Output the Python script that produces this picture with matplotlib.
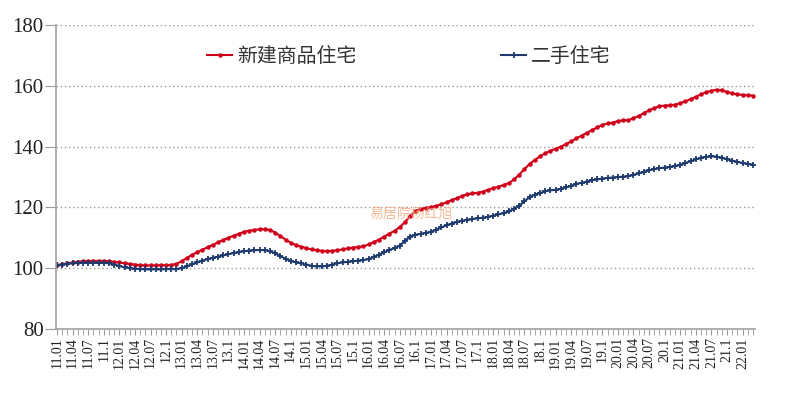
import numpy as np
import matplotlib
matplotlib.use("Agg")
import matplotlib.pyplot as plt

# 月度价格指数(2011.01 = 100 附近), 2011.01 - 2022.03
new_homes = [
    101.0, 101.3, 101.6, 101.9, 102.1, 102.3, 102.4, 102.4, 102.4, 102.4, 102.3, 102.1,  # 2011
    101.9, 101.6, 101.4, 101.2, 101.0, 100.9, 100.9, 100.9, 101.0, 101.0, 101.1, 101.4,  # 2012
    102.3, 103.4, 104.4, 105.3, 106.1, 106.9, 107.7, 108.5, 109.3, 110.0, 110.7, 111.3,  # 2013
    112.0, 112.3, 112.6, 112.8, 112.8, 112.6, 111.7, 110.6, 109.4, 108.4, 107.6, 107.1,  # 2014
    106.6, 106.2, 105.9, 105.7, 105.6, 105.7, 105.9, 106.2, 106.5, 106.8, 107.0, 107.2,  # 2015
    107.8, 108.6, 109.4, 110.4, 111.4, 112.3, 113.5, 115.2, 117.1, 118.8, 119.5, 119.8,  # 2016
    120.1, 120.5, 121.0, 121.7, 122.4, 123.0, 123.8, 124.3, 124.6, 124.8, 125.2, 125.8,  # 2017
    126.4, 126.8, 127.4, 128.0, 129.2, 130.8, 132.6, 134.3, 135.6, 136.8, 137.8, 138.6,  # 2018
    139.3, 140.0, 140.8, 141.7, 142.7, 143.6, 144.5, 145.4, 146.3, 147.1, 147.6, 147.9,  # 2019
    148.4, 148.6, 148.7, 149.3, 150.1, 151.0, 151.9, 152.7, 153.3, 153.5, 153.6, 153.8,  # 2020
    154.3, 154.9, 155.6, 156.4, 157.2, 157.9, 158.4, 158.7, 158.5, 158.0, 157.5, 157.2,  # 2021
    157.0, 156.9, 156.8,                                                                  # 2022
]
second_hand = [
    100.9, 101.2, 101.4, 101.6, 101.7, 101.8, 101.8, 101.8, 101.8, 101.8, 101.6, 101.2,  # 2011
    100.7, 100.3, 100.0, 99.8, 99.7, 99.6, 99.6, 99.6, 99.6, 99.7, 99.7, 99.7,            # 2012
    100.0, 100.6, 101.3, 101.9, 102.5, 103.0, 103.4, 103.8, 104.2, 104.6, 105.0, 105.3,  # 2013
    105.6, 105.8, 105.9, 106.0, 105.9, 105.6, 104.9, 104.0, 103.1, 102.4, 101.9, 101.6,  # 2014
    101.2, 100.8, 100.6, 100.6, 100.8, 101.2, 101.6, 101.9, 102.1, 102.3, 102.5, 102.7,  # 2015
    103.0, 103.7, 104.4, 105.3, 106.0, 106.6, 107.4, 109.0, 110.4, 111.0, 111.3, 111.6,  # 2016
    112.0, 112.6, 113.4, 114.1, 114.7, 115.2, 115.6, 115.9, 116.2, 116.4, 116.6, 116.9,  # 2017
    117.3, 117.7, 118.1, 118.7, 119.5, 120.6, 122.0, 123.4, 124.2, 124.7, 125.3, 125.6,  # 2018
    125.8, 126.1, 126.6, 127.1, 127.7, 128.1, 128.5, 128.9, 129.2, 129.5, 129.7, 129.8,  # 2019
    130.0, 130.1, 130.3, 130.7, 131.2, 131.7, 132.2, 132.6, 132.9, 133.1, 133.3, 133.6,  # 2020
    134.0, 134.6, 135.2, 135.8, 136.3, 136.6, 136.8, 136.7, 136.4, 135.8, 135.4, 135.0,  # 2021
    134.6, 134.3, 134.1,                                                                  # 2022
]
series_names = ["新建商品住宅", "二手住宅"]
y_ticks = [80, 100, 120, 140, 160, 180]

# 月份标签: 11.01, 11.02, ... , 22.03 (10月写成 "x.1")
months = []
for yr in range(11, 23):
    for mo in range(1, 13):
        if mo == 10:
            months.append(f"{yr}.1")
        else:
            months.append(f"{yr}.{mo:02d}")
months = months[:len(new_homes)]

plt.rcParams['font.family'] = ['Noto Sans CJK SC', 'DejaVu Sans']

fig = plt.figure(figsize=(7.91, 4.08), dpi=100)
ax = fig.add_axes([56 / 791, 1 - 329 / 408, (755 - 56) / 791, (329 - 25) / 408])

x = np.arange(len(new_homes))
ax.plot(x, new_homes, color='#d0021b', lw=1.5, marker='o', ms=2.2,
        mec='#d0021b', label=series_names[0])
ax.plot(x, second_hand, color='#1f3b6e', lw=1.5, marker='+', ms=4, mew=1.3,
        label=series_names[1])

ax.set_ylim(80, 180)
ax.set_xlim(-0.2, len(new_homes) - 0.6)
ax.set_yticks(y_ticks)
ax.set_yticklabels([str(v) for v in y_ticks], family='Liberation Serif',
                   fontsize=15, color='#222222')

ax.set_xticks(x[::3])
ax.set_xticklabels(months[::3], rotation=90, family='Liberation Serif',
                   fontsize=10, color='#222222')
ax.set_xticks(x, minor=True)

ax.tick_params(axis='both', which='both', direction='out', color='#999999')
ax.tick_params(axis='x', which='both', length=4, pad=2)
ax.tick_params(axis='y', length=8, pad=1)

for v in y_ticks[1:]:
    ax.axhline(v, color='#9a9a9a', lw=1.0, ls=(0, (1, 2)), zorder=0)

for s in ['top', 'right']:
    ax.spines[s].set_visible(False)
for s in ['left', 'bottom']:
    ax.spines[s].set_color('#a0a0a0')
    ax.spines[s].set_linewidth(1.2)

leg = ax.legend(loc='upper center', bbox_to_anchor=(0.505, 0.99), ncol=2,
                frameon=False, fontsize=14.3, handlelength=1.25,
                columnspacing=7.3, handletextpad=0.25)
for t in leg.get_texts():
    t.set_color('#333333')

ax.text(0.508, 0.38, "易居院杨红旭", transform=ax.transAxes, ha='center',
        va='center', fontsize=10, color='#f3a77a', alpha=0.8)

fig.savefig("out.png", dpi=100)
